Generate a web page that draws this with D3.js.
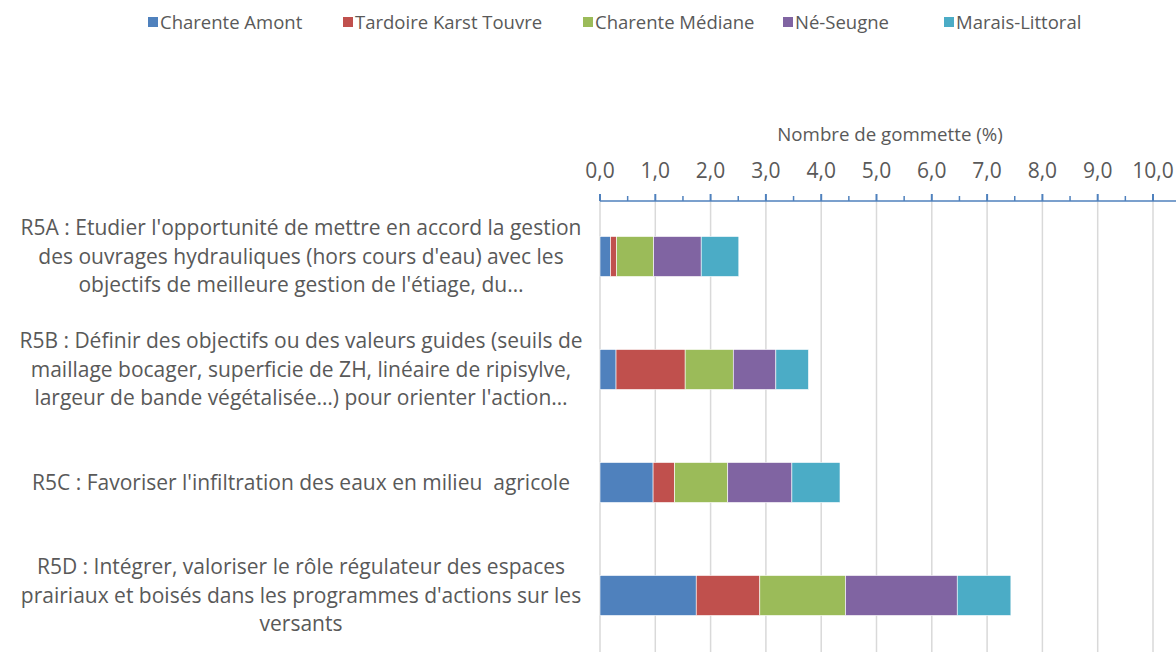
<!DOCTYPE html>
<html>
<head>
<meta charset="utf-8">
<script src="https://cdn.jsdelivr.net/npm/d3@7"></script>
<style>
  body { margin: 0; background: #fff; }
  svg { display: block; font-family: "Open Sans", sans-serif; }
</style>
</head>
<body>
<div id="chart"></div>
<script>
// categories (one entry per line of the wrapped label)
var categories = ["R5A", "R5B", "R5C", "R5D"];
var labels = [
  ["R5A : Etudier l'opportunité de mettre en accord la gestion",
   "des ouvrages hydrauliques (hors cours d'eau) avec les",
   "objectifs de meilleure gestion de l'étiage, du…"],
  ["R5B : Définir des objectifs ou des valeurs guides (seuils de",
   "maillage bocager, superficie de ZH, linéaire de ripisylve,",
   "largeur de bande végétalisée…) pour orienter l'action…"],
  ["R5C : Favoriser l'infiltration des eaux en milieu  agricole"],
  ["R5D : Intégrer, valoriser le rôle régulateur des espaces",
   "prairiaux et boisés dans les programmes d'actions sur les",
   "versants"]
];

var seriesNames = ["Charente Amont", "Tardoire Karst Touvre", "Charente Médiane", "Né-Seugne", "Marais-Littoral"];
var seriesColors = ["#4F81BD", "#C0504D", "#9BBB59", "#8064A2", "#4BACC6"];

// % of gommettes per category, in series order
var charenteAmont = [0.19, 0.29, 0.96, 1.74];
var tardoire      = [0.11, 1.25, 0.39, 1.15];
var charenteMed   = [0.67, 0.87, 0.96, 1.55];
var neSeugne      = [0.86, 0.77, 1.16, 2.02];
var maraisLitt    = [0.68, 0.59, 0.87, 0.97];

var xTicks = [0, 1, 2, 3, 4, 5, 6, 7, 8, 9, 10];
var axisTitle = "Nombre de gommette (%)";

var W = 1176, H = 652;
var textColor = "#595959";

var svg = d3.select("#chart").append("svg")
    .attr("width", W)
    .attr("height", H);

var table = categories.map(function(c, i) {
  return {
    cat: c,
    "Charente Amont": charenteAmont[i],
    "Tardoire Karst Touvre": tardoire[i],
    "Charente Médiane": charenteMed[i],
    "Né-Seugne": neSeugne[i],
    "Marais-Littoral": maraisLitt[i]
  };
});

var stack = d3.stack().keys(seriesNames)(table);

var x = d3.scaleLinear()
    .domain([0, 10])
    .range([600, 1153]);

var y = d3.scaleBand()
    .domain(categories)
    .range([200, 652])
    .paddingInner(0.646)
    .paddingOuter(0.323);

var color = d3.scaleOrdinal().domain(seriesNames).range(seriesColors);

// gridlines
svg.append("g")
  .selectAll("line")
  .data(xTicks)
  .enter().append("line")
    .attr("x1", function(d) { return x(d); })
    .attr("x2", function(d) { return x(d); })
    .attr("y1", 201)
    .attr("y2", H)
    .attr("stroke", "#D9D9D9")
    .attr("stroke-width", 1.5);

// stacked bars
svg.append("g")
  .selectAll("g")
  .data(stack)
  .enter().append("g")
    .attr("fill", function(d) { return color(d.key); })
  .selectAll("rect")
  .data(function(d) { return d; })
  .enter().append("rect")
    .attr("x", function(d) { return x(d[0]); })
    .attr("width", function(d) { return x(d[1]) - x(d[0]); })
    .attr("y", function(d) { return y(d.data.cat); })
    .attr("height", y.bandwidth())
    .attr("stroke", "#fff")
    .attr("stroke-width", 0.6);

// top axis: major ticks every 1, minor every 0.5
var axisY = 201;
var axisColor = "#4F81BD";
var gAxis = svg.append("g");
gAxis.append("line")
    .attr("x1", x(0))
    .attr("x2", W)
    .attr("y1", axisY)
    .attr("y2", axisY)
    .attr("stroke", axisColor)
    .attr("stroke-width", 1.5);

var minorTicks = d3.range(0.5, 10.5, 1);
gAxis.selectAll(".minor")
  .data(minorTicks)
  .enter().append("line")
    .attr("class", "minor")
    .attr("x1", function(d) { return x(d); })
    .attr("x2", function(d) { return x(d); })
    .attr("y1", axisY - 5)
    .attr("y2", axisY)
    .attr("stroke", axisColor)
    .attr("stroke-width", 1.5);

gAxis.selectAll(".major")
  .data(xTicks)
  .enter().append("line")
    .attr("class", "major")
    .attr("x1", function(d) { return x(d); })
    .attr("x2", function(d) { return x(d); })
    .attr("y1", axisY - 7)
    .attr("y2", axisY)
    .attr("stroke", axisColor)
    .attr("stroke-width", 2);

var fmt = function(d) { return d3.format(".1f")(d).replace(".", ","); };
gAxis.selectAll(".tl")
  .data(xTicks)
  .enter().append("text")
    .attr("class", "tl")
    .attr("x", function(d) { return x(d); })
    .attr("y", 178)
    .attr("text-anchor", "middle")
    .attr("fill", textColor)
    .style("font-size", "21px")
    .text(fmt);

svg.append("text")
    .attr("x", 890)
    .attr("y", 141)
    .attr("text-anchor", "middle")
    .attr("fill", textColor)
    .style("font-size", "18.7px")
    .text(axisTitle);

// category labels, centred and wrapped
var labelX = 301, lineH = 28.5;
svg.append("g")
  .selectAll("text")
  .data(categories)
  .enter().append("text")
    .attr("text-anchor", "middle")
    .attr("fill", textColor)
    .style("font-size", "21px")
    .style("white-space", "pre")
    .each(function(c, i) {
      var lines = labels[i];
      var cy = y(c) + y.bandwidth() / 2;
      var t = d3.select(this);
      lines.forEach(function(l, j) {
        t.append("tspan")
          .attr("x", labelX)
          .attr("y", cy + (j - (lines.length - 1) / 2) * lineH + 7)
          .text(l);
      });
    });

// legend
var legendX = [148, 343, 583, 783, 944];
var lg = svg.append("g").selectAll("g")
  .data(seriesNames)
  .enter().append("g")
    .attr("transform", function(d, i) { return "translate(" + legendX[i] + ",22)"; });
lg.append("rect")
    .attr("x", 0)
    .attr("y", -5)
    .attr("width", 10)
    .attr("height", 10)
    .attr("fill", function(d) { return color(d); });
lg.append("text")
    .attr("x", 12)
    .attr("y", 6.5)
    .attr("fill", textColor)
    .style("font-size", "18.5px")
    .text(function(d) { return d; });
</script>
</body>
</html>
